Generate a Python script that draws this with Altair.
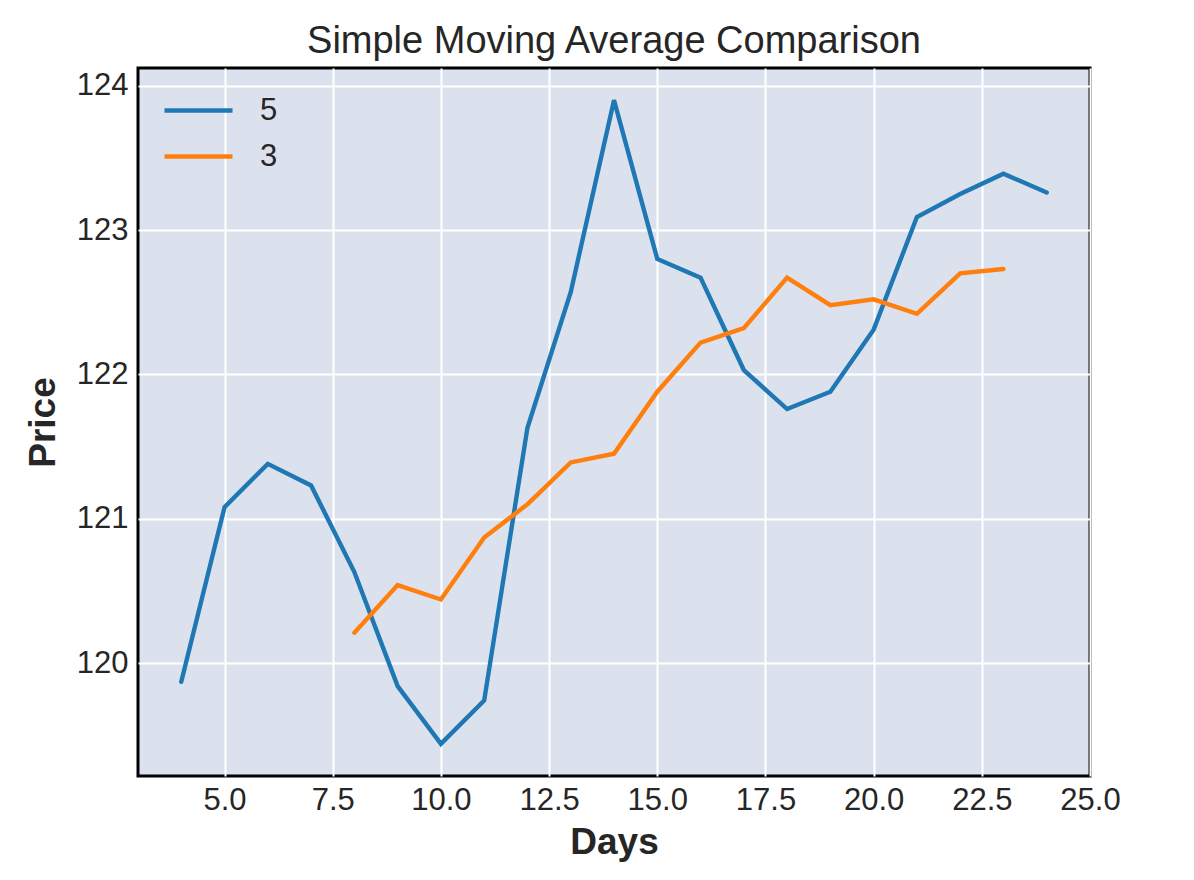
import altair as alt
import pandas as pd

# Data
days_5 = [4, 5, 6, 7, 8, 9, 10, 11, 12, 13, 14, 15, 16, 17, 18, 19, 20, 21, 22, 23, 24]
sma_5 = [119.87, 121.08, 121.38, 121.23, 120.63, 119.84, 119.44, 119.74, 121.63, 122.57,
         123.90, 122.80, 122.67, 122.03, 121.76, 121.88, 122.31, 123.09, 123.25, 123.39, 123.26]
days_3 = [8, 9, 10, 11, 12, 13, 14, 15, 16, 17, 18, 19, 20, 21, 22, 23]
sma_3 = [120.21, 120.54, 120.44, 120.87, 121.10, 121.39, 121.45, 121.88, 122.22, 122.32,
         122.67, 122.48, 122.52, 122.42, 122.70, 122.73]
series_names = ["5", "3"]
series_colors = ["#1f77b4", "#ff7f0e"]
x_ticks = [5.0, 7.5, 10.0, 12.5, 15.0, 17.5, 20.0, 22.5, 25.0]
y_ticks = [120, 121, 122, 123, 124]

df = pd.concat([
    pd.DataFrame({"Days": days_5, "Price": sma_5, "Window": "5", "order": 0}),
    pd.DataFrame({"Days": days_3, "Price": sma_3, "Window": "3", "order": 1}),
], ignore_index=True)

FONT = "Liberation Sans"
TXT = "#262626"

chart = alt.Chart(df).mark_line(strokeWidth=4.4, strokeCap="round", strokeJoin="miter").encode(
    x=alt.X("Days:Q",
            scale=alt.Scale(domain=[3, 25], nice=False, zero=False),
            axis=alt.Axis(values=x_ticks, format=".1f", title="Days", labelFlush=False)),
    y=alt.Y("Price:Q",
            scale=alt.Scale(domain=[119.217, 124.123], nice=False, zero=False),
            axis=alt.Axis(values=y_ticks, format="d", title="Price", labelFlush=False)),
    color=alt.Color("Window:N",
                    scale=alt.Scale(domain=series_names, range=series_colors),
                    legend=alt.Legend(title=None, orient="none", legendX=45, legendY=27,
                                      symbolType="M-3,0H3", symbolSize=514,
                                      symbolStrokeWidth=4.4, labelOffset=46,
                                      labelFontSize=31, labelFont=FONT, labelColor=TXT,
                                      rowPadding=14, padding=0)),
    detail="Window:N",
    order="order:Q",
).properties(
    width=952,
    height=708,
    title=alt.TitleParams("Simple Moving Average Comparison", font=FONT, fontSize=38,
                          fontWeight="normal", color=TXT, offset=7),
    autosize=alt.AutoSizeParams(type="none"),
    padding={"left": 130, "top": 60, "right": 96, "bottom": 90},
).configure_view(
    fill="#dce2ed", stroke="black", strokeWidth=3,
).configure_axis(
    grid=True, gridColor="white", gridWidth=2, gridOpacity=1,
    domain=False, ticks=False,
    labelFont=FONT, labelFontSize=31, labelColor=TXT,
    titleFont=FONT, titleFontSize=37, titleFontWeight="bold", titleColor=TXT,
).configure_axisX(
    labelPadding=9, titlePadding=9,
).configure_axisY(
    labelPadding=10, titlePadding=14,
)

chart.save("out.html", embed_options={"renderer": "svg", "actions": False})
